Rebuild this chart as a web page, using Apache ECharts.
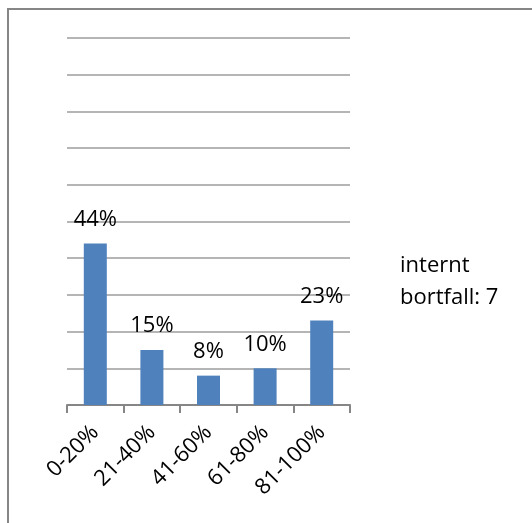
<!DOCTYPE html>
<html>
<head>
<meta charset="utf-8">
<script src="https://cdn.jsdelivr.net/npm/echarts@6/dist/echarts.min.js"></script>
<style>
  html, body { margin: 0; padding: 0; background: #ffffff; }
  #chart { width: 532px; height: 523px; }
</style>
</head>
<body>
<div id="chart"></div>
<script>
// Share of respondents per completion band
const categories = ['0-20%', '21-40%', '41-60%', '61-80%', '81-100%'];
const shares = [44, 15, 8, 10, 23];
const noteLines = ['internt', 'bortfall: 7'];

const FONT = '"Open Sans", sans-serif';
const chart = echarts.init(document.getElementById('chart'), null, { renderer: 'canvas' });

chart.setOption({
  animation: false,
  backgroundColor: '#ffffff',
  grid: { left: 67, right: 182, top: 38, bottom: 118, containLabel: false },
  xAxis: {
    type: 'category',
    data: categories,
    boundaryGap: true,
    axisLine: { lineStyle: { color: '#868686', width: 2 } },
    axisTick: { show: true, alignWithLabel: false, length: 8, lineStyle: { color: '#868686', width: 2 } },
    axisLabel: {
      rotate: 45,
      interval: 0,
      margin: 24,
      color: '#000000',
      fontFamily: FONT,
      fontSize: 22
    }
  },
  yAxis: {
    type: 'value',
    min: 0,
    max: 100,
    interval: 10,
    axisLine: { show: false },
    axisTick: { show: false },
    axisLabel: { show: false },
    splitLine: { lineStyle: { color: '#b5b5b5', width: 2 } }
  },
  series: [{
    type: 'bar',
    data: shares,
    barWidth: 23,
    itemStyle: { color: '#4f81bd' },
    label: {
      show: true,
      position: 'top',
      distance: 13,
      formatter: '{c}%',
      color: '#000000',
      fontFamily: FONT,
      fontSize: 22
    }
  }],
  graphic: [
    {
      type: 'rect',
      shape: { x: 8, y: 9, width: 600, height: 600 },
      style: { fill: 'none', stroke: '#868686', lineWidth: 2 },
      silent: true
    },
    {
      type: 'text',
      left: 400,
      top: 250,
      style: {
        text: noteLines.join('\n'),
        fill: '#000000',
        font: '22px ' + FONT,
        lineHeight: 32
      }
    }
  ]
});
</script>
</body>
</html>
